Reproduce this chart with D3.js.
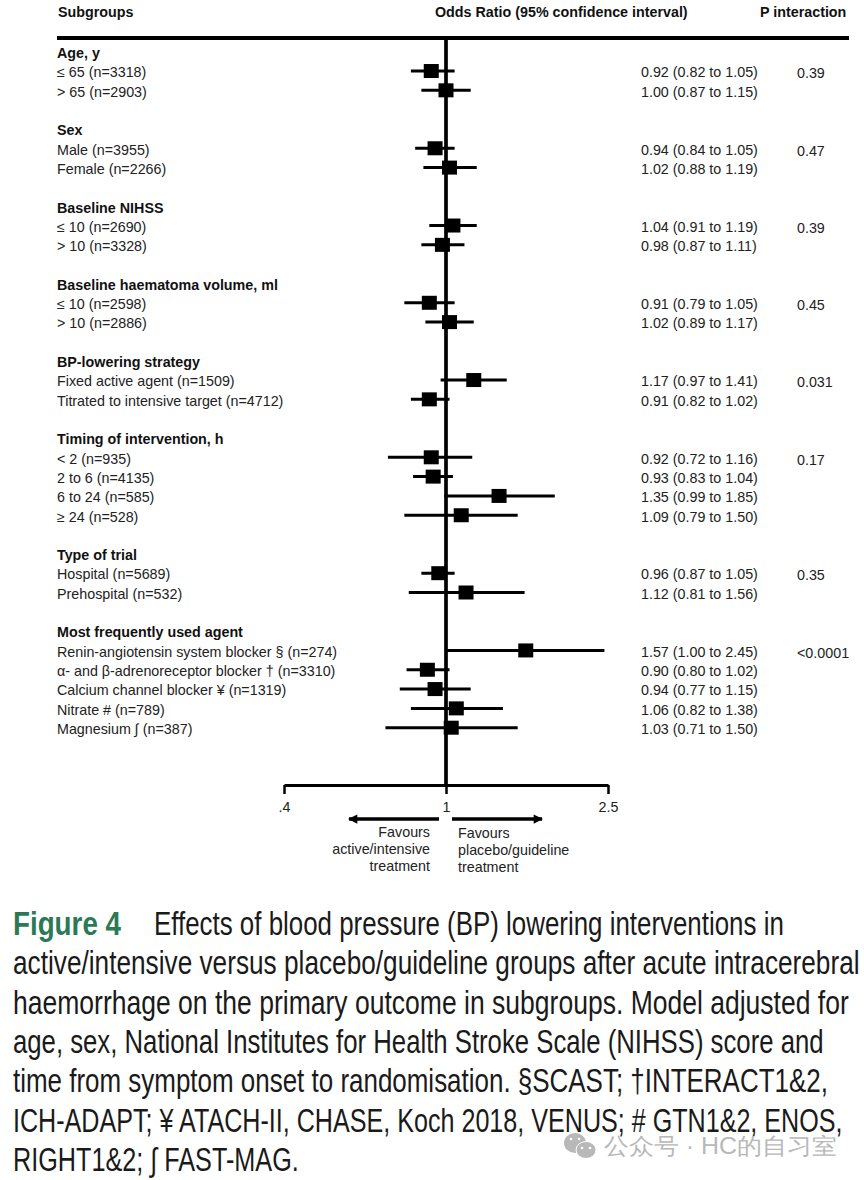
<!DOCTYPE html>
<html>
<head>
<meta charset="utf-8">
<script src="https://cdn.jsdelivr.net/npm/d3@7"></script>
<style>
  html, body { margin: 0; padding: 0; background: #fff; }
  text { font-family: "Liberation Sans", Arial, sans-serif; }
</style>
</head>
<body>
<div id="chart"></div>
<script>
// subgroup headings and the row slot each one sits on
const groupNames = ["Age, y", "Sex", "Baseline NIHSS", "Baseline haematoma volume, ml", "BP-lowering strategy",
    "Timing of intervention, h", "Type of trial", "Most frequently used agent"];
const groupSlots = [0, 4, 8, 12, 16, 20, 26, 30];
const pValues = ["0.39", "0.47", "0.39", "0.45", "0.031", "0.17", "0.35", "<0.0001"];

const rowLabels = ["≤ 65 (n=3318)", "> 65 (n=2903)", "Male (n=3955)", "Female (n=2266)", "≤ 10 (n=2690)", "> 10 (n=3328)",
    "≤ 10 (n=2598)", "> 10 (n=2886)", "Fixed active agent (n=1509)", "Titrated to intensive target (n=4712)",
    "< 2 (n=935)", "2 to 6 (n=4135)", "6 to 24 (n=585)", "≥ 24 (n=528)", "Hospital (n=5689)", "Prehospital (n=532)",
    "Renin-angiotensin system blocker § (n=274)", "α- and β-adrenoreceptor blocker † (n=3310)",
    "Calcium channel blocker ¥ (n=1319)", "Nitrate # (n=789)", "Magnesium ∫ (n=387)"];
const rowSlots = [1, 2, 5, 6, 9, 10, 13, 14, 17, 18, 21, 22, 23, 24, 27, 28, 31, 32, 33, 34, 35];
const oddsRatio = [0.92, 1.00, 0.94, 1.02, 1.04, 0.98, 0.91, 1.02, 1.17, 0.91, 0.92, 0.93, 1.35, 1.09, 0.96, 1.12, 1.57, 0.90, 0.94, 1.06, 1.03];
const ciLow = [0.82, 0.87, 0.84, 0.88, 0.91, 0.87, 0.79, 0.89, 0.97, 0.82, 0.72, 0.83, 0.99, 0.79, 0.87, 0.81, 1.00, 0.80, 0.77, 0.82, 0.71];
const ciHigh = [1.05, 1.15, 1.05, 1.19, 1.19, 1.11, 1.05, 1.17, 1.41, 1.02, 1.16, 1.04, 1.85, 1.50, 1.05, 1.56, 2.45, 1.02, 1.15, 1.38, 1.50];

const axisTicks = [0.4, 1, 2.5];
const axisTickLabels = [".4", "1", "2.5"];

const captionLines = [
    "Effects of blood pressure (BP) lowering interventions in",
    "active/intensive versus placebo/guideline groups after acute intracerebral",
    "haemorrhage on the primary outcome in subgroups. Model adjusted for",
    "age, sex, National Institutes for Health Stroke Scale (NIHSS) score and",
    "time from symptom onset to randomisation. §SCAST; †INTERACT1&2,",
    "ICH-ADAPT; ¥ ATACH-II, CHASE, Koch 2018, VENUS; # GTN1&2, ENOS,",
    "RIGHT1&2; ∫ FAST-MAG."
];

const svg = d3.select("#chart").append("svg")
    .attr("width", 864)
    .attr("height", 1180)
    .style("display", "block");

const x = d3.scaleLog().domain([0.4, 2.5]).range([284, 608]);
const y = d3.scaleLinear().domain([0, 35]).range([53, 729]);
const ink = "#000";
const textInk = "#222";
const labelSize = 14.3;
const fmt = d3.format(".2f");

// header
const header = svg.append("g").attr("font-size", 14.3).attr("font-weight", "bold").attr("fill", "#111");
header.append("text").attr("x", 58).attr("y", 17).text("Subgroups");
header.append("text").attr("x", 435).attr("y", 17).text("Odds Ratio (95% confidence interval)");
header.append("text").attr("x", 760).attr("y", 17).text("P interaction");

svg.append("line").attr("x1", 57).attr("x2", 849).attr("y1", 38).attr("y2", 38)
    .attr("stroke", ink).attr("stroke-width", 4);

// left labels
svg.append("g").selectAll("text")
    .data(groupNames)
    .enter().append("text")
    .attr("x", 57)
    .attr("y", (d, i) => y(groupSlots[i]) + 5)
    .attr("font-size", labelSize)
    .attr("font-weight", "bold")
    .attr("fill", "#111")
    .text(d => d);

svg.append("g").selectAll("text")
    .data(rowLabels)
    .enter().append("text")
    .attr("x", 57)
    .attr("y", (d, i) => y(rowSlots[i]) + 5)
    .attr("font-size", labelSize)
    .attr("fill", textInk)
    .text(d => d);

// estimates column
svg.append("g").selectAll("text")
    .data(oddsRatio)
    .enter().append("text")
    .attr("x", 641)
    .attr("y", (d, i) => y(rowSlots[i]) + 5)
    .attr("font-size", labelSize)
    .attr("fill", textInk)
    .text((d, i) => `${fmt(d)} (${fmt(ciLow[i])} to ${fmt(ciHigh[i])})`);

svg.append("g").selectAll("text")
    .data(pValues)
    .enter().append("text")
    .attr("x", 797)
    .attr("y", (d, i) => y(groupSlots[i] + 1) + 6)
    .attr("font-size", labelSize)
    .attr("fill", textInk)
    .text(d => d);

// reference line at 1
svg.append("line")
    .attr("x1", x(1)).attr("x2", x(1))
    .attr("y1", 38).attr("y2", 785)
    .attr("stroke", ink).attr("stroke-width", 3.7);

// confidence intervals and squares
const markOffset = -1.3;
svg.append("g").selectAll("line")
    .data(oddsRatio)
    .enter().append("line")
    .attr("x1", (d, i) => x(ciLow[i]))
    .attr("x2", (d, i) => x(ciHigh[i]))
    .attr("y1", (d, i) => y(rowSlots[i]) + markOffset)
    .attr("y2", (d, i) => y(rowSlots[i]) + markOffset)
    .attr("stroke", ink)
    .attr("stroke-width", 3);

const boxWidth = 15;
const boxHeight = 14;
svg.append("g").selectAll("rect")
    .data(oddsRatio)
    .enter().append("rect")
    .attr("x", d => x(d) - boxWidth / 2)
    .attr("y", (d, i) => y(rowSlots[i]) + markOffset - boxHeight / 2)
    .attr("width", boxWidth)
    .attr("height", boxHeight)
    .attr("fill", ink);

// axis
const axis = svg.append("g")
    .attr("transform", "translate(0,785)")
    .call(d3.axisBottom(x)
        .tickValues(axisTicks)
        .tickFormat((d, i) => axisTickLabels[i])
        .tickSize(9)
        .tickSizeOuter(0)
        .tickPadding(8));
axis.select(".domain").attr("stroke", ink).attr("stroke-width", 3);
axis.selectAll(".tick line").attr("stroke", ink).attr("stroke-width", 2.5);
axis.selectAll(".tick text")
    .attr("fill", textInk)
    .attr("font-size", labelSize)
    .attr("font-family", "Liberation Sans, Arial, sans-serif");

// favours arrows
svg.append("defs").append("marker")
    .attr("id", "arrowHead")
    .attr("viewBox", "0 0 10 10")
    .attr("refX", 9).attr("refY", 5)
    .attr("markerWidth", 2.9).attr("markerHeight", 2.5)
    .attr("orient", "auto")
    .append("path").attr("d", "M0,0L10,5L0,10Z").attr("fill", ink);

svg.append("line").attr("x1", 439).attr("x2", 349).attr("y1", 819).attr("y2", 819)
    .attr("stroke", ink).attr("stroke-width", 3.7).attr("marker-end", "url(#arrowHead)");
svg.append("line").attr("x1", 452).attr("x2", 542).attr("y1", 819).attr("y2", 819)
    .attr("stroke", ink).attr("stroke-width", 3.7).attr("marker-end", "url(#arrowHead)");

const favoursLeft = ["Favours", "active/intensive", "treatment"];
const favoursRight = ["Favours", "placebo/guideline", "treatment"];
svg.append("g").selectAll("text").data(favoursLeft).enter().append("text")
    .attr("x", 430).attr("y", (d, i) => 837 + i * 17)
    .attr("text-anchor", "end").attr("font-size", labelSize).attr("fill", textInk).text(d => d);
svg.append("g").selectAll("text").data(favoursRight).enter().append("text")
    .attr("x", 458).attr("y", (d, i) => 838 + i * 17)
    .attr("font-size", labelSize).attr("fill", textInk).text(d => d);

// squeeze a text horizontally to a given width, the journal face is condensed
function squeeze(sel, left, baseline, width) {
    sel.attr("transform", function() {
        const k = width / this.getComputedTextLength();
        return `translate(${left},${baseline}) scale(${k},1)`;
    });
}

const captionWidths = [630, 847, 836, 811, 815, 830, 286];
const captionX = [154, 13, 13, 13, 13, 13, 13];
const caption = svg.append("g").attr("font-size", 32.5).attr("fill", "#1a1a1a");
caption.append("text")
    .attr("font-family", "Open Sans, sans-serif")
    .attr("font-weight", "bold")
    .attr("fill", "#2c7a55")
    .text("Figure 4")
    .call(squeeze, 13, 935, 108);
caption.selectAll("text.line")
    .data(captionLines)
    .enter().append("text")
    .attr("class", "line")
    .attr("font-family", "Open Sans, sans-serif")
    .text(d => d)
    .each(function(d, i) {
        d3.select(this).call(squeeze, captionX[i], 935 + i * 39.3, captionWidths[i]);
    });

// watermark
const markColor = "#b8b8b8";
const mark = svg.append("g").attr("fill", markColor);
mark.append("ellipse").attr("cx", 575).attr("cy", 1143).attr("rx", 11).attr("ry", 10);
mark.append("ellipse").attr("cx", 586).attr("cy", 1150).attr("rx", 10).attr("ry", 8.5).attr("stroke", "#fff");
mark.selectAll("circle.eye")
    .data([[571, 1139], [579, 1139], [582, 1148], [590, 1148]])
    .enter().append("circle")
    .attr("class", "eye")
    .attr("cx", d => d[0]).attr("cy", d => d[1]).attr("r", 1.3)
    .attr("fill", "#fff");
mark.append("text")
    .attr("font-size", 23)
    .attr("font-family", "Noto Sans CJK SC, sans-serif")
    .text("公众号 · HC的自习室")
    .call(squeeze, 604, 1154, 233);
</script>
</body>
</html>
